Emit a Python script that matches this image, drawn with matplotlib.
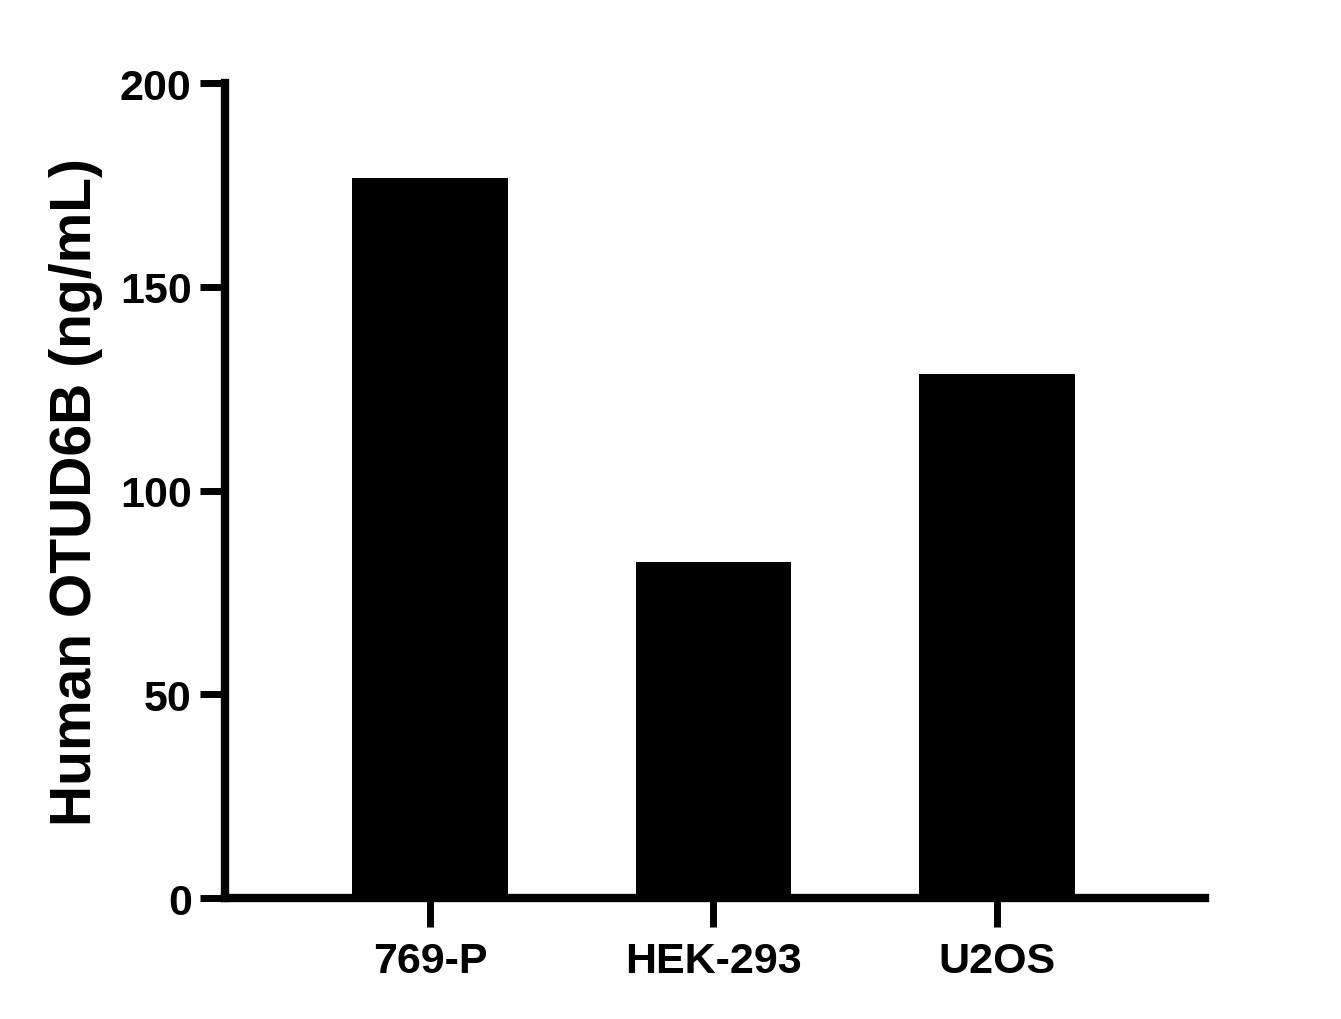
import numpy as np
import matplotlib
matplotlib.use("Agg")
import matplotlib.pyplot as plt

# cell lines and measured OTUD6B levels
cell_lines = ["769-P", "HEK-293", "U2OS"]
otud6b_ng_ml = [176.8, 82.5, 128.7]
y_ticks = [0, 50, 100, 150, 200]

plt.rcParams['font.family'] = ['Liberation Sans', 'DejaVu Sans']
plt.rcParams['font.weight'] = 'bold'

fig = plt.figure(figsize=(13.41, 10.20), dpi=100)
ax = fig.add_axes([0.1678, 0.1186, 0.7308, 0.7990])

x = np.arange(len(cell_lines))
ax.bar(x, otud6b_ng_ml, width=0.55, color='black', zorder=1)

ax.set_xlim(-0.723, 2.734)
ax.set_ylim(0, 200)
ax.set_xticks(x)
ax.set_xticklabels(cell_lines)
ax.set_yticks(y_ticks)

for side in ('top', 'right'):
    ax.spines[side].set_visible(False)
for side in ('left', 'bottom'):
    ax.spines[side].set_linewidth(6)
    ax.spines[side].set_capstyle('projecting')

ax.tick_params(axis='both', width=5, labelsize=31, direction='out')
ax.tick_params(axis='y', length=18, pad=6)
ax.tick_params(axis='x', length=21, pad=10)

ax.set_ylabel("Human OTUD6B (ng/mL)", fontsize=41, fontweight='bold', labelpad=12)

fig.savefig("out.png", dpi=100)
